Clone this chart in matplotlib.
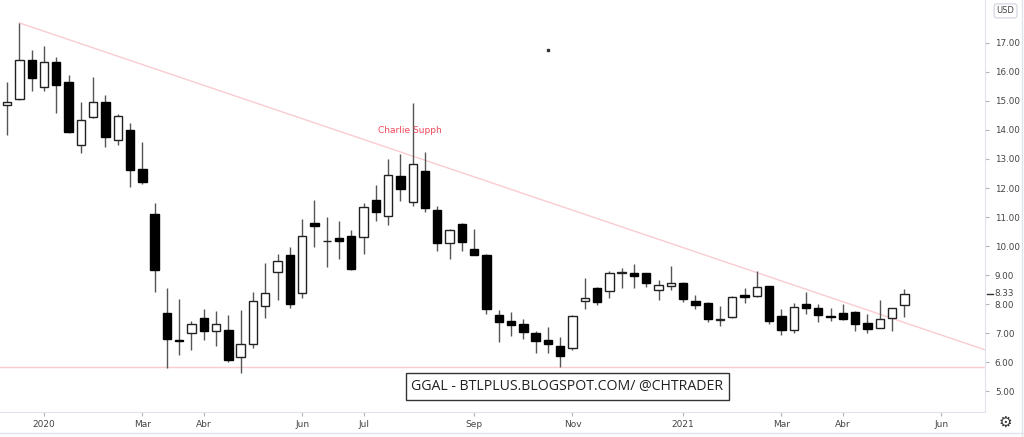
import matplotlib
matplotlib.use("Agg")
import matplotlib.pyplot as plt
import numpy as np

# GGAL semanal, semanas contadas desde la semana del 6 ene 2020 (indice 0)
semanas = list(range(-3, 71))

aperturas = [14.87, 15.06, 16.42, 15.48, 16.36, 15.67, 13.49, 14.46, 14.96, 13.65,
             14.00, 12.66, 11.09, 7.70, 6.75, 7.02, 7.53, 7.08, 7.12, 6.17,
             6.64, 7.94, 9.09, 9.69, 8.37, 10.78, 10.17, 10.29, 10.35, 10.32,
             11.59, 11.05, 12.43, 11.53, 12.60, 11.24, 10.12, 10.75, 9.90, 9.69,
             7.64, 7.43, 7.32, 6.99, 6.76, 6.56, 6.47, 8.12, 8.56, 8.45,
             9.07, 9.06, 9.06, 8.47, 8.62, 8.74, 8.10, 8.05, 7.46, 7.56,
             8.31, 8.28, 8.62, 7.60, 7.09, 8.01, 7.87, 7.58, 7.70, 7.74,
             7.36, 7.18, 7.53, 7.97]
maximos = [15.67, 17.68, 16.76, 16.90, 16.50, 15.90, 14.96, 15.81, 15.21, 14.55,
           14.23, 13.60, 11.47, 8.56, 8.17, 7.41, 7.82, 7.76, 7.62, 7.79,
           8.43, 9.40, 9.71, 9.95, 10.92, 11.59, 10.99, 10.86, 10.55, 11.49,
           12.10, 12.99, 13.16, 14.92, 13.23, 11.39, 10.59, 10.78, 10.59, 9.74,
           7.79, 7.74, 7.48, 7.07, 7.22, 6.85, 7.61, 8.89, 8.60, 9.14,
           9.25, 9.37, 9.08, 8.83, 9.32, 8.76, 8.31, 8.07, 7.93, 8.27,
           8.54, 9.15, 8.63, 7.82, 8.05, 8.43, 7.99, 7.85, 7.99, 7.76,
           7.66, 8.14, 7.87, 8.52]
minimos = [13.83, 15.04, 15.35, 15.35, 14.58, 13.89, 13.20, 14.43, 13.40, 13.49,
           12.05, 12.13, 8.40, 5.81, 6.24, 6.41, 6.76, 6.56, 5.99, 5.64,
           6.50, 7.51, 8.13, 7.85, 8.22, 9.95, 9.29, 9.54, 9.18, 9.73,
           10.87, 10.72, 11.55, 11.38, 11.18, 9.84, 9.55, 9.84, 9.68, 7.66,
           6.68, 6.91, 6.78, 6.33, 6.30, 5.84, 6.41, 7.83, 7.97, 8.22,
           8.54, 8.56, 8.60, 8.14, 8.48, 8.08, 7.83, 7.37, 7.24, 7.51,
           8.02, 8.26, 7.33, 6.95, 6.99, 7.66, 7.37, 7.42, 7.44, 7.07,
           7.02, 7.17, 7.07, 7.57]
cierres = [14.98, 16.42, 15.79, 16.36, 15.56, 13.94, 14.34, 14.96, 13.76, 14.49,
           12.62, 12.20, 9.16, 6.79, 6.71, 7.32, 7.07, 7.30, 6.06, 6.61,
           8.10, 8.37, 9.48, 7.99, 10.36, 10.70, 10.19, 10.19, 9.20, 11.33,
           11.18, 12.45, 11.97, 12.82, 11.32, 10.09, 10.57, 10.15, 9.70, 7.82,
           7.37, 7.27, 7.05, 6.72, 6.62, 6.22, 7.59, 8.22, 8.08, 9.06,
           9.09, 8.98, 8.71, 8.66, 8.74, 8.17, 7.97, 7.47, 7.48, 8.25,
           8.24, 8.60, 7.43, 7.11, 7.91, 7.87, 7.62, 7.56, 7.47, 7.33,
           7.14, 7.48, 7.85, 8.33]

# eje x
pos_meses = [0, 8, 13, 21, 26, 35, 43, 52, 60, 65, 73]
meses = ["2020", "Mar", "Abr", "Jun", "Jul", "Sep", "Nov", "2021", "Mar", "Abr", "Jun"]

# lineas dibujadas a mano
tendencia_x = [-2, 76.65]
tendencia_y = [17.69, 6.41]
soporte = 5.82
ultimo = 8.33

x = np.array(semanas)
o = np.array(aperturas)
c = np.array(cierres)
sube = c >= o

fig = plt.figure(figsize=(10.24, 4.37), dpi=100)
ax = fig.add_axes([0, 0.0572, 0.962, 0.9428])

ax.vlines(x, minimos, maximos, color="#555555", linewidth=1, zorder=2)
alto = np.maximum(np.abs(c - o), 0.02)
base = np.minimum(o, c)
ax.bar(x[sube], alto[sube], bottom=base[sube], width=0.68, color="white",
       edgecolor="#222222", linewidth=1, zorder=3)
ax.bar(x[~sube], alto[~sube], bottom=base[~sube], width=0.68, color="black",
       edgecolor="black", linewidth=1, zorder=3)

ax.plot(tendencia_x, tendencia_y, color="#f9ccd1", linewidth=1, zorder=1)
ax.axhline(soporte, color="#f9ccd1", linewidth=1, zorder=1)

ax.text(29.8, 13.98, "Charlie Supph", color="#f0475a", fontsize=6.5,
        ha="center", va="center")
ax.plot([41], [16.76], marker="s", markersize=1.5, color="#333333")

ax.text(0.576, 0.062, "GGAL - BTLPLUS.BLOGSPOT.COM/ @CHTRADER", transform=ax.transAxes,
        ha="center", va="center", fontsize=10.2, family="Open Sans", color="#222222",
        bbox=dict(boxstyle="square,pad=0.4", facecolor="white", edgecolor="#333333", linewidth=1))

ax.set_xlim(-3.58, 76.57)
ax.set_ylim(4.28, 18.48)

ax.set_xticks(pos_meses)
ax.set_xticklabels(meses)
ax.set_yticks(range(5, 18))
ax.set_yticklabels(["%.2f" % v for v in range(5, 18)])
ax.yaxis.tick_right()
ax.tick_params(axis="y", length=3, color="#b2b5be", labelsize=6.3, labelcolor="#444444", pad=4)
ax.tick_params(axis="x", length=3, color="#b2b5be", labelsize=6.5, labelcolor="#444444", pad=3)

for lado in ["left", "top"]:
    ax.spines[lado].set_visible(False)
ax.spines["right"].set_color("#e0e3eb")
ax.spines["bottom"].set_color("#e0e3eb")

# etiqueta del ultimo precio
ax.annotate("%.2f" % ultimo, xy=(1, ultimo), xycoords=("axes fraction", "data"),
            xytext=(7, 1), textcoords="offset points", fontsize=6.3, color="#444444",
            va="center", ha="left")
ax.plot([1.002, 1.008], [ultimo, ultimo], transform=ax.get_yaxis_transform(),
        color="#333333", linewidth=1, clip_on=False)

fig.text(0.982, 0.975, "USD", fontsize=6, color="#444444", ha="center", va="center",
         bbox=dict(boxstyle="round,pad=0.3", facecolor="white", edgecolor="#d0d3db", linewidth=0.8))
fig.text(0.982, 0.033, "\u2699", fontsize=11, color="#333333", ha="center", va="center")
fig.add_artist(plt.Line2D([0, 1], [0.009, 0.009], color="#e0e3eb", linewidth=1))
fig.add_artist(plt.Line2D([0.9985, 0.9985], [0, 1], color="#e0e3eb", linewidth=1))

plt.savefig("out.png", dpi=100)
plt.close()
